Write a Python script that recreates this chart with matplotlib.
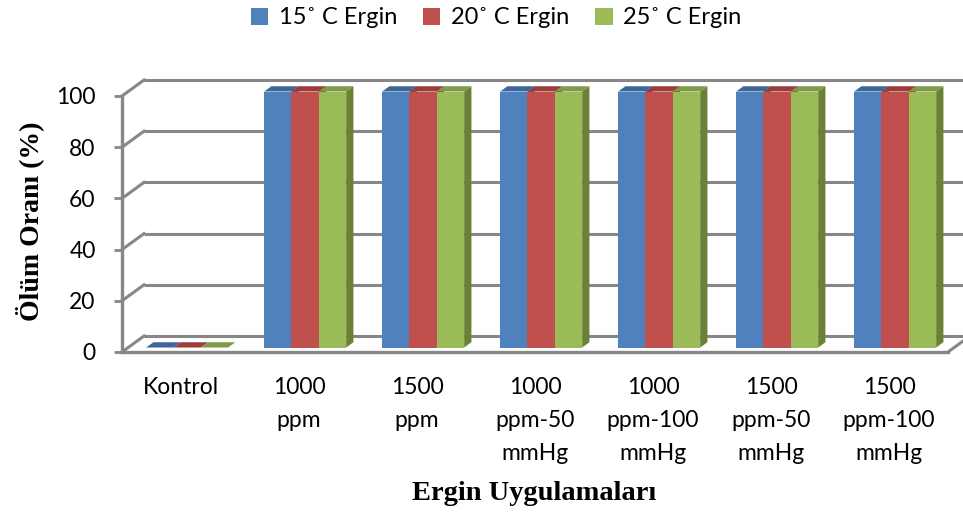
import matplotlib
matplotlib.use("Agg")
import matplotlib.pyplot as plt
from matplotlib.patches import Polygon, Patch

# ---- data ----
categories = ["Kontrol", "1000\nppm", "1500\nppm", "1000\nppm-50\nmmHg",
              "1000\nppm-100\nmmHg", "1500\nppm-50\nmmHg", "1500\nppm-100\nmmHg"]
series_names = ["15˚ C Ergin", "20˚ C Ergin", "25˚ C Ergin"]
ergin_15 = [0, 100, 100, 100, 100, 100, 100]
ergin_20 = [0, 100, 100, 100, 100, 100, 100]
ergin_25 = [0, 100, 100, 100, 100, 100, 100]
y_ticks = [0, 20, 40, 60, 80, 100]

series_values = [ergin_15, ergin_20, ergin_25]

# ---- style ----
front_col = ["#4F81BD", "#C0504D", "#9BBB59"]
top_col = ["#3C679B", "#9E3C3A", "#7E9C45"]
side_col = ["#36608F", "#8E3533", "#6B8236"]
grid_col = "#878787"
sans = ["Lato", "DejaVu Sans"]
serif = ["Liberation Serif", "DejaVu Serif"]

W, H = 963, 515
fig = plt.figure(figsize=(W / 100, H / 100), dpi=100)
ax = fig.add_axes([122 / W, (H - 352) / H, (948 - 122) / W, (352 - 96) / H])
n = len(categories)
ax.set_xlim(-0.5, n - 0.5)
ax.set_ylim(0, 100)

# depth of the 3-D box in data units (px / px-per-unit)
px_x = (948 - 122) / n
px_y = (352 - 96) / 100
DX = 22 / px_x
DY = 16 / px_y

# back wall gridlines with their diagonal links to the front axis
for v in y_ticks:
    ax.plot([-0.5 + DX, n - 0.5 + DX], [v + DY, v + DY], color=grid_col,
            lw=2.2, clip_on=False, zorder=1, solid_capstyle="butt")
    ax.plot([-0.5, -0.5 + DX], [v, v + DY], color=grid_col,
            lw=2.2, clip_on=False, zorder=1)

# floor edges
ax.plot([-0.5, n - 0.5], [0, 0], color=grid_col, lw=2.4, clip_on=False, zorder=2)
ax.plot([n - 0.5, n - 0.5 + DX], [0, DY], color=grid_col, lw=2.2, clip_on=False, zorder=2)

# 3-D columns
group_w = 82 / px_x
bar_w = group_w / 3
f_off = 0.28   # position of the column front inside the depth
f_dep = 0.33   # column depth as a fraction of the box depth
z = 3
for i in range(n):
    for s, vals in enumerate(series_values):
        h = vals[i]
        x0 = i - group_w / 2 + s * bar_w + f_off * DX
        y0 = f_off * DY
        ddx, ddy = f_dep * DX, f_dep * DY
        side = [(x0 + bar_w, y0), (x0 + bar_w + ddx, y0 + ddy),
                (x0 + bar_w + ddx, y0 + h + ddy), (x0 + bar_w, y0 + h)]
        top = [(x0, y0 + h), (x0 + bar_w, y0 + h),
               (x0 + bar_w + ddx, y0 + h + ddy), (x0 + ddx, y0 + h + ddy)]
        frnt = [(x0, y0), (x0 + bar_w, y0), (x0 + bar_w, y0 + h), (x0, y0 + h)]
        ax.add_patch(Polygon(side, closed=True, fc=side_col[s], ec="none",
                             clip_on=False, zorder=z))
        ax.add_patch(Polygon(top, closed=True, fc=top_col[s], ec="none",
                             clip_on=False, zorder=z + 1))
        ax.add_patch(Polygon(frnt, closed=True, fc=front_col[s], ec="none",
                             clip_on=False, zorder=z + 2))
        z += 3

# axes
for sp in ["top", "right", "bottom"]:
    ax.spines[sp].set_visible(False)
ax.spines["left"].set_color(grid_col)
ax.spines["left"].set_linewidth(2.4)
ax.spines["left"].set_zorder(2)
ax.set_yticks(y_ticks)
ax.set_yticklabels([str(v) for v in y_ticks], family=sans, fontsize=16.5)
ax.tick_params(axis="y", length=6, width=2, color=grid_col, pad=13)
ax.set_xticks(range(n))
ax.set_xticklabels(categories, family=sans, fontsize=16.5, linespacing=1.72)
ax.tick_params(axis="x", length=0, pad=18)
ax.patch.set_visible(False)

fig.text(30 / W, 1 - 221 / H, "Ölüm Oranı (%)", rotation=90, ha="center",
         va="center", family=serif, fontweight="bold", fontsize=20)
fig.text(534 / W, 1 - 494 / H, "Ergin Uygulamaları", ha="center", va="center",
         family=serif, fontweight="bold", fontsize=20.5)

handles = [Patch(facecolor=c, edgecolor="none") for c in front_col]
fig.legend(handles, series_names, loc="center", bbox_to_anchor=(496 / W, 1 - 18 / H),
           ncol=3, frameon=False, prop={"family": sans, "size": 17},
           handlelength=0.75, handleheight=0.75, handletextpad=0.45, columnspacing=1.08)

fig.savefig("out.png", dpi=100)
